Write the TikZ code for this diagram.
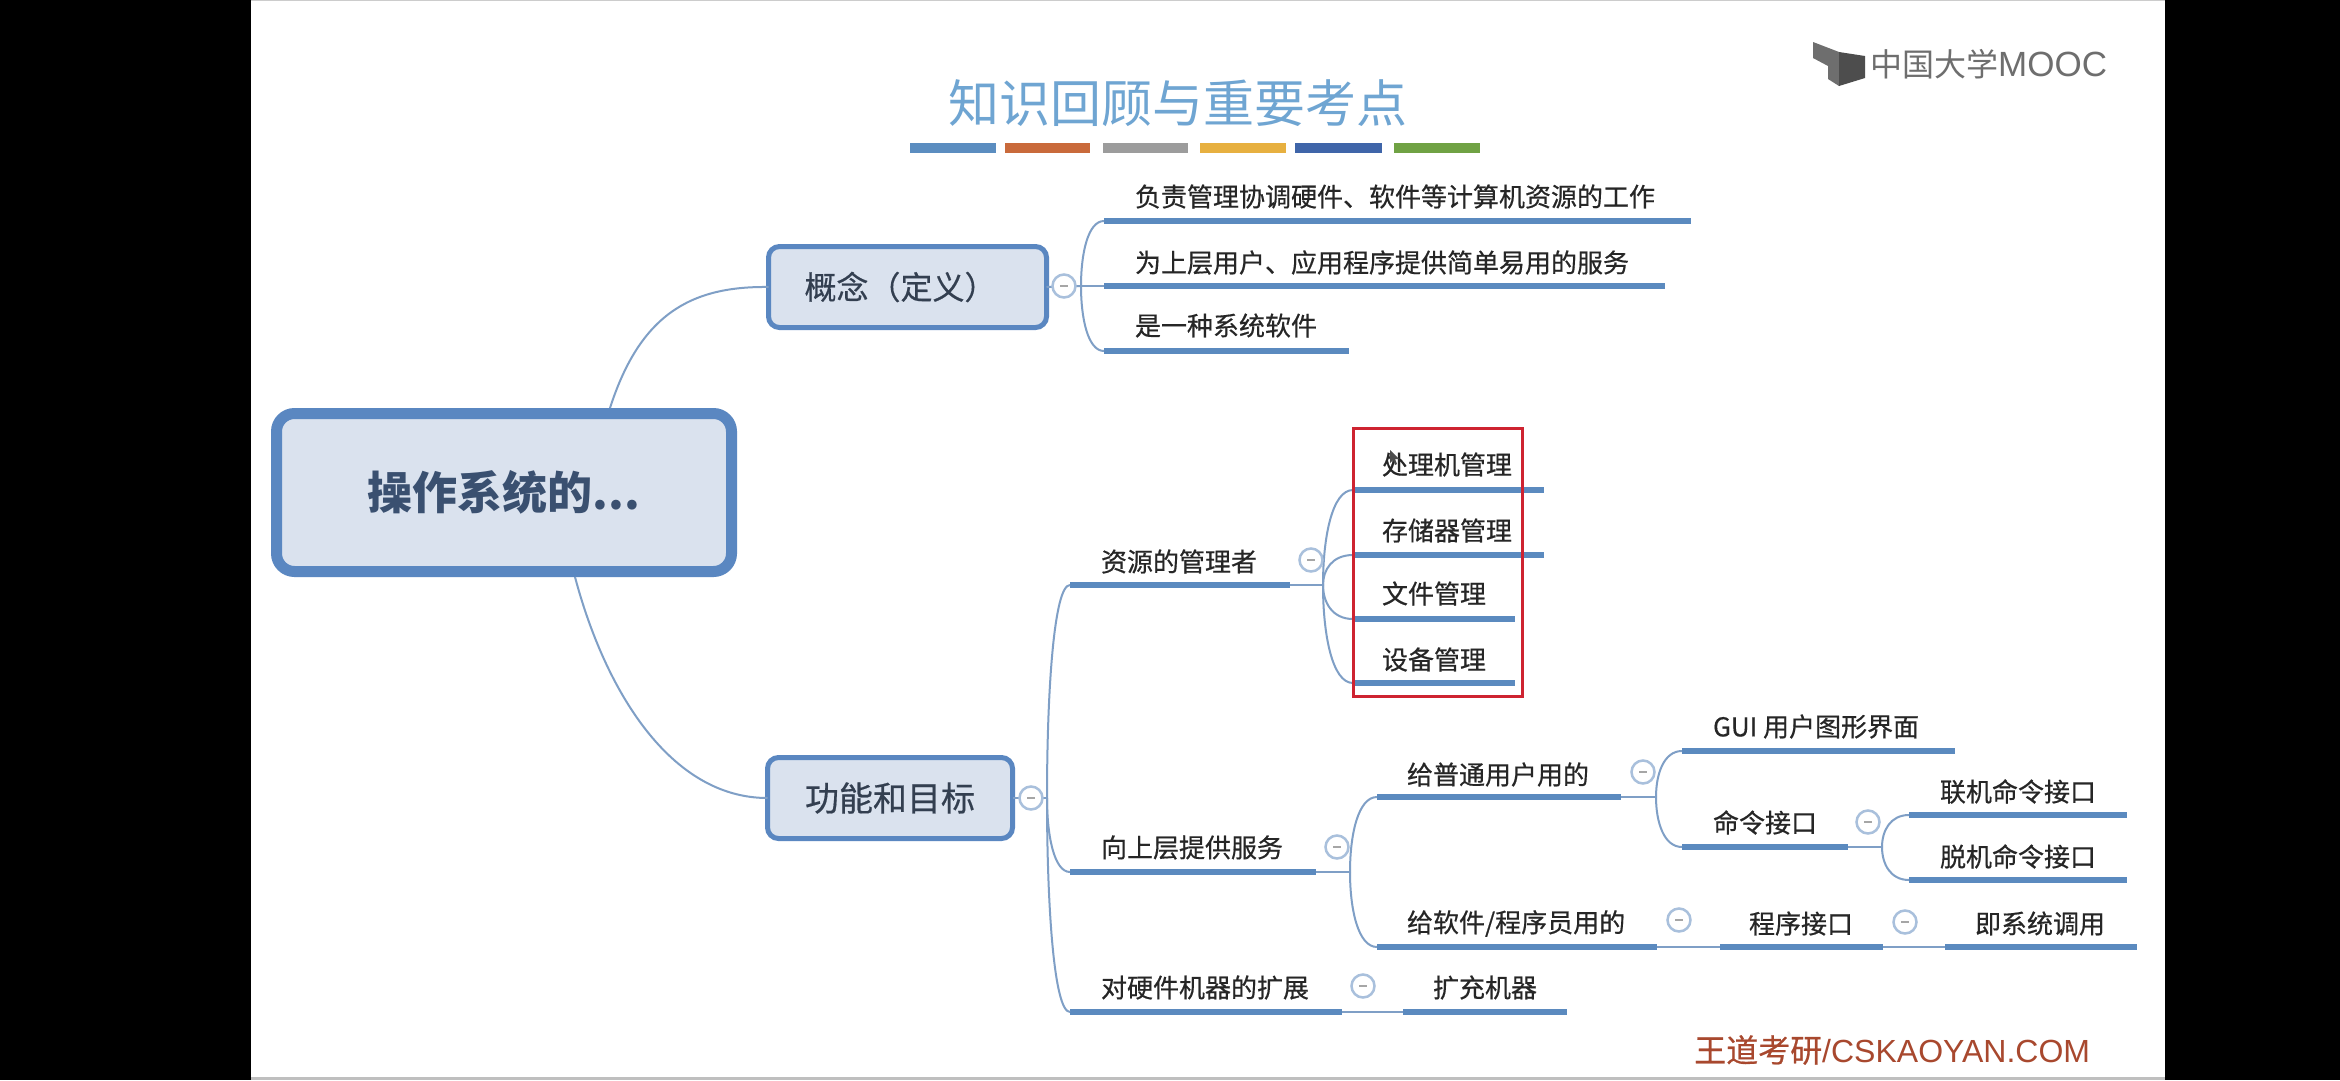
\documentclass[tikz,border=0pt]{standalone}
\usepackage{fontspec}
\setmainfont{Noto Sans CJK SC}
\newfontfamily\medfont[FakeBold=0.5]{Noto Sans CJK SC}
\newfontfamily\latinfont{Liberation Sans}
\usetikzlibrary{calc}
\definecolor{pagebg}{HTML}{000000}
\definecolor{rootline}{HTML}{5A87C1}
\definecolor{boxfill}{HTML}{DAE2EE}
\definecolor{barblue}{HTML}{5B8ABF}
\definecolor{thin}{HTML}{7F9FC6}
\definecolor{togline}{HTML}{A9C0DC}
\definecolor{labeltext}{HTML}{262626}
\definecolor{boxtext}{HTML}{333F50}
\definecolor{roottext}{HTML}{3A5070}
\definecolor{titleblue}{HTML}{6FA5D2}
\definecolor{framered}{HTML}{CE2331}
\definecolor{logogray}{HTML}{6E6E6E}
\definecolor{markbrown}{HTML}{A8482E}
\tikzset{
  bar/.style={draw=barblue,line width=6pt},
  link/.style={draw=thin,line width=2pt},
  lbl/.style={anchor=west,inner sep=0pt,outer sep=0pt,text=labeltext,font=\medfont\fontsize{26}{26}\selectfont},
  tog/.style={circle,draw=togline,fill=white,line width=2.5pt,minimum size=23pt,inner sep=0pt,
    path picture={\draw[draw=gray!70,line width=2pt] ([xshift=-4pt]path picture bounding box.center) -- ([xshift=4pt]path picture bounding box.center);}},
  mainbox/.style={rectangle,rounded corners=11pt,draw=rootline,fill=boxfill,line width=5pt,outer sep=0pt,inner sep=0pt,minimum height=81pt,text=boxtext},
  swatch/.style={line width=10pt},
}
\newcommand{\topicitem}[7]{%
  \coordinate (#1L) at (#2,#4);
  \coordinate (#1R) at (#3,#4);
  \draw[bar] (#1L) -- (#1R);
  \node[lbl] (#1) at (#5,#6+0.5) {#7};
}
\newcommand{\forkto}[2]{%
  \draw[link] (#1) .. controls ($(#1)!0.5!(#1|-#2)$) and ($(#1|-#2)!0.3!(#2)$) .. (#2);
}
\begin{document}
\begin{tikzpicture}[x=1pt,y=-1pt]
\useasboundingbox (0,0) rectangle (2340,1080);
\fill[pagebg] (0,0) rectangle (2340,1080);
\fill[white] (251,1) rectangle (2165,1077);
\fill[gray!50] (251,1077) rectangle (2165,1080);
\fill[gray!40] (251,0) rectangle (2165,1);

% title
\node[inner sep=0pt,text=titleblue,font=\fontsize{51}{52}\selectfont] (title) at (1178,103) {知识回顾与重要考点};
\foreach \a/\b/\c in {910/996/5B8DC0,1005/1090/C96A3B,1103/1188/9C9C9C,1200/1286/E7B040,1295/1382/3F65A9,1394/1480/70A244}{
  \definecolor{sw}{HTML}{\c}
  \draw[swatch,draw=sw] (\a,148) -- (\b,148);
}

% logo
\fill[logogray] (1813,42) -- (1839,52) -- (1839,86) -- (1828,79) -- (1828,66) -- (1813,58) -- cycle;
\fill[logogray!70!black] (1839,52) -- (1865,56) -- (1865,78) -- (1839,86) -- cycle;
\node[anchor=west,inner sep=0pt,text=logogray,font=\fontsize{32}{32}\selectfont] (logo) at (1870,64) {中国大学{\latinfont\fontsize{35}{35}\selectfont MOOC}};

% watermark
\node[anchor=west,inner sep=0pt,text=markbrown,font=\medfont\fontsize{32}{32}\selectfont] (mark) at (1694,1050) {王道考研{\latinfont\fontsize{32}{33}\selectfont /CSKAOYAN.COM}};

% fork points
\coordinate (f1) at (1081,286);
\coordinate (f2) at (1047,798);
\coordinate (f3) at (1323,585);
\coordinate (f4) at (1350,872);
\coordinate (f5) at (1656,797);
\coordinate (f6) at (1882,847);

% main boxes
\node[mainbox,line width=11pt,rounded corners=18pt,minimum width=455pt,minimum height=158pt,text=roottext,font=\bfseries\fontsize{45}{45}\selectfont] (root) at (504,492.5) {操作系统的...};
\node[mainbox,minimum width=278pt,font=\medfont\fontsize{32}{32}\selectfont] (concept) at (907.5,287) {概念（定义）\hspace*{14pt}};
\node[mainbox,minimum width=245pt,font=\medfont\fontsize{34}{34}\selectfont] (func) at (890,798) {功能和目标};

% links root -> boxes
\coordinate (rt) at (610,408);
\coordinate (rb) at (575,577);
\draw[link] (rt) .. controls (640,315) and (690,286) .. (concept.west);
\draw[link] (rb) .. controls (605,690) and (670,798) .. (func.west);

% links to toggles and forks
\draw[link] (concept.east) -- (f1);
\draw[link] (func.east) -- (f2);

% topics: concept
\topicitem{a1}{1104}{1691}{221}{1135}{196}{负责管理协调硬件、软件等计算机资源的工作}
\topicitem{a2}{1104}{1665}{286}{1135}{262}{为上层用户、应用程序提供简单易用的服务}
\topicitem{a3}{1104}{1349}{351}{1135}{325}{是一种系统软件}
\forkto{f1}{a1L}
\draw[link] (f1) -- (a2L);
\forkto{f1}{a3L}

% topics: func
\topicitem{b1}{1070}{1290}{585}{1101}{561}{资源的管理者}
\topicitem{b2}{1070}{1316}{872}{1101}{847}{向上层提供服务}
\topicitem{b3}{1070}{1342}{1012}{1101}{987}{对硬件机器的扩展}
\forkto{f2}{b1L}
\forkto{f2}{b2L}
\forkto{f2}{b3L}

% resources
\draw[link] (b1R) -- (f3);
\topicitem{d1}{1353}{1544}{490}{1382}{464}{处理机管理}
\topicitem{d2}{1353}{1544}{555}{1382}{530}{存储器管理}
\topicitem{d3}{1353}{1515}{619}{1382}{593}{文件管理}
\topicitem{d4}{1353}{1515}{683}{1382}{659}{设备管理}
\forkto{f3}{d1L}
\forkto{f3}{d2L}
\forkto{f3}{d3L}
\forkto{f3}{d4L}
\draw[draw=framered,line width=3pt] (1353,428) rectangle (1522,696);

% services
\draw[link] (b2R) -- (f4);
\topicitem{e1}{1377}{1621}{797}{1407}{774}{给普通用户用的}
\topicitem{e2}{1377}{1657}{947}{1407}{923}{给软件/程序员用的}
\forkto{f4}{e1L}
\forkto{f4}{e2L}
\draw[link] (e1R) -- (f5);
\topicitem{g1}{1682}{1955}{751}{1713}{726}{GUI 用户图形界面}
\topicitem{g2}{1682}{1848}{847}{1713}{822}{命令接口}
\forkto{f5}{g1L}
\forkto{f5}{g2L}
\draw[link] (g2R) -- (f6);
\topicitem{h1}{1909}{2127}{815}{1940}{791}{联机命令接口}
\topicitem{h2}{1909}{2127}{880}{1940}{856}{脱机命令接口}
\forkto{f6}{h1L}
\forkto{f6}{h2L}
\topicitem{k1}{1720}{1883}{947}{1749}{923}{程序接口}
\topicitem{k2}{1945}{2137}{947}{1975}{923}{即系统调用}
\draw[link] (e2R) -- (k1L);
\draw[link] (k1R) -- (k2L);

% hardware
\topicitem{m1}{1403}{1567}{1012}{1433}{987}{扩充机器}
\draw[link] (b3R) -- (m1L);

% toggles
\node[tog] (c1) at (1064,286) {};
\node[tog] (c2) at (1031,798) {};
\node[tog] (c3) at (1311,560) {};
\node[tog] (c4) at (1337,847) {};
\node[tog] (c5) at (1643,772) {};
\node[tog] (c6) at (1868,822) {};
\node[tog] (c7) at (1679,920) {};
\node[tog] (c8) at (1905,922) {};
\node[tog] (c9) at (1363,986) {};

% cursor
\fill[black!70] (1390,450) -- (1390,463) -- (1393,460) -- (1395,465) -- (1397,464) -- (1395,459) -- (1399,459) -- cycle;
\end{tikzpicture}
\end{document}
